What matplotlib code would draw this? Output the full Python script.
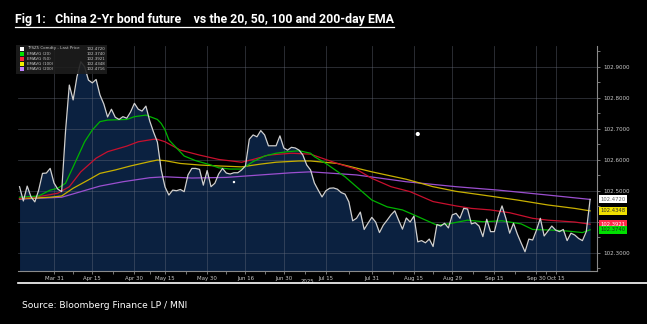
import matplotlib.pyplot as plt
import pandas as pd
from matplotlib.lines import Line2D
from matplotlib.patches import Rectangle
import matplotlib.transforms as mtransforms

# trading calendar (CFFEX, 2025)
start, end = '2025-03-18', '2025-10-28'
holidays = ['2025-04-04', '2025-05-01', '2025-05-02', '2025-05-05', '2025-06-02',
            '2025-10-01', '2025-10-02', '2025-10-03', '2025-10-06', '2025-10-07', '2025-10-08']

# TFSZ5 last price, one value per trading day
price = [102.513, 102.467, 102.515, 102.480, 102.464, 102.502, 102.556, 102.557, 102.572,
         102.525, 102.505, 102.497, 102.690, 102.841, 102.793, 102.868, 102.916, 102.900, 102.857,
         102.848, 102.859, 102.809, 102.780, 102.738, 102.763, 102.737, 102.730, 102.739, 102.734,
         102.754, 102.782, 102.763, 102.757, 102.773, 102.725, 102.689, 102.657, 102.567, 102.512,
         102.486, 102.502, 102.500, 102.504, 102.497, 102.551, 102.572, 102.572, 102.569, 102.518,
         102.565, 102.513, 102.524, 102.554, 102.572, 102.557, 102.554, 102.558, 102.558, 102.567,
         102.580, 102.666, 102.680, 102.674, 102.694, 102.680, 102.645, 102.645, 102.645, 102.677,
         102.638, 102.631, 102.640, 102.638, 102.631, 102.615, 102.583, 102.567, 102.525, 102.502,
         102.480, 102.500, 102.508, 102.509, 102.505, 102.494, 102.489, 102.464, 102.403, 102.411,
         102.431, 102.375, 102.395, 102.414, 102.399, 102.365, 102.389, 102.405, 102.422, 102.435,
         102.405, 102.376, 102.412, 102.399, 102.418, 102.335, 102.339, 102.332, 102.344, 102.320,
         102.391, 102.386, 102.395, 102.380, 102.422, 102.427, 102.411, 102.443, 102.441, 102.393,
         102.397, 102.386, 102.352, 102.408, 102.368, 102.368, 102.416, 102.451, 102.411, 102.363,
         102.395, 102.360, 102.331, 102.303, 102.344, 102.341, 102.373, 102.411, 102.354, 102.370,
         102.386, 102.373, 102.368, 102.375, 102.339, 102.363, 102.357, 102.346, 102.339, 102.368, 102.472]

# EMAs (trading-day index, value)
ema20_i = [0, 5, 8, 10, 12, 14, 17, 19, 21, 23, 28, 30, 33, 36, 37, 38, 39, 43, 46, 50, 52, 55, 58,
           61, 64, 67, 70, 73, 76, 77, 80, 85, 89, 92, 96, 100, 103, 107, 109, 112, 117, 121, 126,
           131, 134, 139, 143, 147, 149]
ema20_v = [102.479, 102.483, 102.502, 102.508, 102.524, 102.577, 102.658, 102.696, 102.723, 102.728,
           102.730, 102.739, 102.744, 102.730, 102.717, 102.696, 102.664, 102.612, 102.597, 102.583,
           102.574, 102.570, 102.570, 102.594, 102.612, 102.621, 102.626, 102.629, 102.621, 102.610,
           102.588, 102.545, 102.502, 102.470, 102.448, 102.438, 102.422, 102.400, 102.389, 102.393,
           102.405, 102.400, 102.403, 102.393, 102.375, 102.373, 102.370, 102.365, 102.374]
ema50_i = [0, 6, 10, 13, 16, 20, 23, 28, 31, 35, 36, 38, 42, 47, 52, 58, 61, 65, 71, 76, 79, 83, 88,
           92, 97, 102, 108, 114, 118, 123, 128, 134, 138, 145, 149]
ema50_v = [102.475, 102.483, 102.492, 102.513, 102.561, 102.605, 102.626, 102.644, 102.658, 102.666,
           102.666, 102.658, 102.631, 102.615, 102.601, 102.592, 102.601, 102.615, 102.621, 102.618,
           102.605, 102.588, 102.569, 102.540, 102.513, 102.497, 102.465, 102.451, 102.443, 102.438,
           102.429, 102.411, 102.405, 102.399, 102.392]
ema100_i = [0, 8, 11, 14, 18, 21, 25, 29, 34, 36, 38, 42, 47, 52, 58, 63, 67, 73, 76, 83, 92, 101,
            108, 114, 121, 130, 138, 145, 149]
ema100_v = [102.474, 102.479, 102.483, 102.508, 102.535, 102.556, 102.567, 102.580, 102.594, 102.599,
            102.597, 102.588, 102.583, 102.580, 102.577, 102.586, 102.592, 102.596, 102.596, 102.588,
            102.561, 102.537, 102.513, 102.498, 102.486, 102.470, 102.454, 102.443, 102.435]
ema200_i = [0, 11, 16, 21, 27, 34, 38, 45, 54, 63, 71, 76, 88, 101, 114, 125, 138, 149]
ema200_v = [102.473, 102.479, 102.497, 102.515, 102.529, 102.542, 102.545, 102.541, 102.543, 102.551,
            102.558, 102.561, 102.551, 102.529, 102.513, 102.502, 102.486, 102.472]

# event markers
dot_i = [104, 56]
dot_v = [102.683, 102.528]
dot_s = [9, 3]

legend_names = ['TFSZ5 Comdty - Last Price', 'EMAVG (20)', 'EMAVG (50)', 'EMAVG (100)', 'EMAVG (200)']
legend_vals = ['102.4720', '102.3740', '102.3921', '102.4348', '102.4716']

tick_dates = ['2025-03-31', '2025-04-15', '2025-04-30', '2025-05-15', '2025-05-30', '2025-06-16',
              '2025-06-30', '2025-07-15', '2025-07-31', '2025-08-15', '2025-08-29', '2025-09-15',
              '2025-09-30', '2025-10-15']
tick_labels = ['Mar 31', 'Apr 15', 'Apr 30', 'May 15', 'May 30', 'Jun 16', 'Jun 30', 'Jul 15',
               'Jul 31', 'Aug 15', 'Aug 29', 'Sep 15', 'Sep 30', 'Oct 15']

days = pd.bdate_range(start, end, freq='C', holidays=holidays)
x = list(range(len(days)))
tick_pos = [days.get_loc(pd.Timestamp(d)) for d in tick_dates]

W, H = 647, 324
fig = plt.figure(figsize=(W / 100, H / 100), dpi=100, facecolor='black')
ax = fig.add_axes([18 / W, 1 - 271 / H, 579 / W, 225 / H])
ax.set_facecolor('black')

ax.fill_between(x, price, 102.0, color='#0b2140', lw=0, zorder=1)
ax.plot(ema200_i, ema200_v, color='#9b4fd0', lw=0.9, zorder=3)
ax.plot(ema100_i, ema100_v, color='#c8b000', lw=0.9, zorder=3)
ax.plot(ema50_i, ema50_v, color='#c8102e', lw=0.9, zorder=3)
ax.plot(ema20_i, ema20_v, color='#00b400', lw=0.9, zorder=3)
ax.plot(x, price, color='#d0d0d0', lw=0.9, zorder=4)
ax.scatter(dot_i, dot_v, s=dot_s, color='white', zorder=5, lw=0)

ax.set_xlim(-0.4, 150.8)
ax.set_ylim(102.241, 102.967)

ax.set_axisbelow(False)
ax.grid(True, color='#6a7080', lw=0.6, alpha=0.45)

for s in ['left', 'top']:
    ax.spines[s].set_visible(False)
for s in ['right', 'bottom']:
    ax.spines[s].set_color('#8a8a8a')
    ax.spines[s].set_linewidth(0.8)

ax.set_xticks(tick_pos)
ax.set_xticklabels(tick_labels)
ax.set_xticks([(a + b) / 2 for a, b in zip(tick_pos[:-1], tick_pos[1:])], minor=True)
ax.tick_params(axis='x', which='both', colors='#8a8a8a', labelcolor='#c8c8c8', labelsize=3.9,
               length=2, width=0.6, pad=1.5)

ax.yaxis.tick_right()
yt = [102.3, 102.4, 102.5, 102.6, 102.7, 102.8, 102.9]
ax.set_yticks(yt)
ax.set_yticklabels(['%.4f' % v if abs(v - 102.4) > 1e-6 else '' for v in yt])
ax.set_yticks([v + 0.05 for v in [102.2] + yt], minor=True)
ax.tick_params(axis='y', which='both', colors='#8a8a8a', labelcolor='#c8c8c8', labelsize=4.1,
               length=2.5, width=0.6, pad=2)

ax.text(0.5, -0.035, '2025', transform=ax.transAxes, ha='center', va='top', fontsize=3.9,
        color='#c8c8c8')

# last-value tags on the right axis
trans = mtransforms.blended_transform_factory(ax.transAxes, ax.transData)
tags = [(102.4720, '#ffffff', '#606060'), (102.4348, '#f0e000', '#303030'),
        (102.3921, '#ff2a4a', '#ffffff'), (102.3740, '#00e000', '#202020')]
for val, bg, fg in tags:
    ax.text(1.006, val, '%.4f' % val, transform=trans, ha='left', va='center', fontsize=3.8,
            color=fg, clip_on=False, zorder=6,
            bbox=dict(boxstyle='square,pad=0.3', facecolor=bg, edgecolor='none'))

# legend box
fig.add_artist(Rectangle((16 / W, 1 - 74 / H), 91 / W, 29 / H, transform=fig.transFigure,
                         facecolor='#1e1e1e', edgecolor='none', alpha=0.9))
sq_colors = ['#ffffff', '#00e000', '#ff2040', '#f0f000', '#c080ff']
for k, (name, val, c) in enumerate(zip(legend_names, legend_vals, sq_colors)):
    yy = 1 - (48.5 + 5.2 * k) / H
    fig.add_artist(Rectangle((20 / W, yy - 2 / H), 4 / W, 4 / H, transform=fig.transFigure,
                             facecolor=c, edgecolor='none'))
    fig.text(27 / W, yy, name, fontsize=2.9, color='#c8c8c8', va='center', ha='left')
    fig.text(105 / W, yy, val, fontsize=2.9, color='#c8c8c8', va='center', ha='right')

# title with underline, sized to the reference width
title = fig.text(15 / W, 1 - 20 / H,
                 'Fig 1:   China 2-Yr bond future    vs the 20, 50, 100 and 200-day EMA',
                 fontsize=11, fontweight='bold', color='white', va='center', ha='left',
                 family=['DejaVu Sans Condensed', 'Liberation Sans Narrow', 'Roboto', 'DejaVu Sans'],
                 stretch='condensed')
fig.canvas.draw()
w = title.get_window_extent().width
title.set_fontsize(11 * min(1.0, 380 / w))
fig.canvas.draw()
bb = title.get_window_extent().transformed(fig.transFigure.inverted())
fig.add_artist(Line2D([bb.x0, bb.x1], [bb.y0 - 0.5 / H] * 2, color='white', lw=0.9))

fig.add_artist(Line2D([18 / W, 1.0], [1 - 283 / H] * 2, color='white', lw=1.2))
fig.text(22 / W, 1 - 306 / H, 'Source: Bloomberg Finance LP / MNI', fontsize=6.6, color='white',
         va='center', ha='left')

fig.savefig('out.png', dpi=100, facecolor='black')
